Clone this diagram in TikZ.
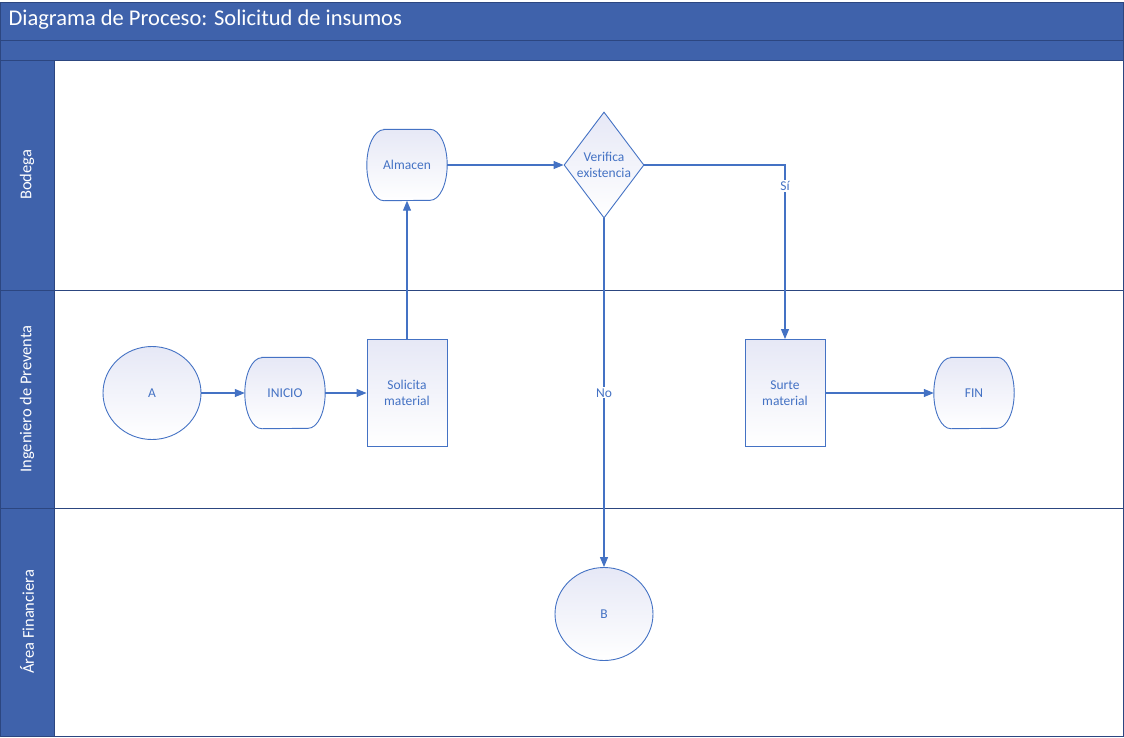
\documentclass[tikz,border=0pt]{standalone}
\usepackage{fontspec}
\setmainfont{Carlito}
\usetikzlibrary{shapes.geometric,arrows.meta,backgrounds}
\definecolor{hdrblue}{RGB}{63,98,171}
\definecolor{hdrline}{RGB}{44,70,128}
\definecolor{flowblue}{RGB}{68,114,196}
\definecolor{shapefill}{RGB}{230,232,246}
\tikzset{
  shp/.style={draw=flowblue, line width=0.9pt, text=flowblue, top color=shapefill, bottom color=white,
    font=\fontsize{13.5}{16}\selectfont, align=center, inner sep=0pt},
  procbox/.style={shp, rectangle, minimum width=80pt, minimum height=107pt},
  termbox/.style={text=flowblue, font=\fontsize{13.5}{16}\selectfont, rectangle, minimum width=80pt, minimum height=71pt},
  termline/.style={draw=flowblue, line width=0.9pt, top color=shapefill, bottom color=white},
  conn/.style={shp, ellipse, minimum width=98pt, minimum height=93pt},
  decision/.style={shp, diamond, minimum width=80pt, minimum height=106pt},
  lanelabel/.style={rotate=90, text=white, font=\fontsize{16.5}{19}\selectfont},
  flow/.style={draw=flowblue, line width=1.1pt, -{Triangle[length=10pt,width=8pt]}},
  flowlabel/.style={fill=white, text=flowblue, font=\fontsize{13.5}{16}\selectfont, inner sep=1pt}
}
\begin{document}
\begin{tikzpicture}[x=1pt,y=-1pt]
\useasboundingbox (0,0) rectangle (1124,737);
\fill[hdrblue] (0,2) rectangle (1124,60);
\fill[hdrblue] (0,60) rectangle (54,737);
\draw[hdrline] (0,40) -- (1124,40);
\draw[hdrline] (0,60) -- (1124,60);
\draw[hdrline] (0,290) -- (1124,290);
\draw[hdrline] (0,508) -- (1124,508);
\draw[hdrline] (54,60) -- (54,736);
\draw[hdrline, line width=1pt] (0.5,2) rectangle (1123.5,736);
\node[anchor=west, text=white, font=\fontsize{22.5}{26}\selectfont] (title) at (5,20) {Diagrama de Proceso: Solicitud de insumos};
\node[lanelabel] (bodega) at (27,175) {Bodega};
\node[lanelabel] (ingeniero) at (27,399) {Ingeniero de Preventa};
\node[lanelabel] (financiera) at (27,622) {Área Financiera};
\node[conn] (A) at (152,393) {A};
\node[termbox] (inicio) at (285,393) {INICIO};
\node[procbox] (solicita) at (407,393) {Solicita\\material};
\node[termbox] (almacen) at (407,165) {Almacen};
\node[decision] (verifica) at (604,165) {Verifica\\existencia};
\node[procbox] (surte) at (785,393) {Surte\\material};
\node[termbox] (fin) at (974,393) {FIN};
\node[conn] (B) at (604,614) {B};
\begin{pgfonlayer}{background}
\foreach \t in {inicio,almacen,fin}
  \shade[termline] ([xshift=17pt]\t.north west) -- ([xshift=-17pt]\t.north east)
    arc[start angle=90, end angle=-90, x radius=17pt, y radius=35.5pt]
    -- ([xshift=17pt]\t.south west)
    arc[start angle=270, end angle=90, x radius=17pt, y radius=35.5pt] -- cycle;
\end{pgfonlayer}
\draw[flow] (A) -- (inicio);
\draw[flow] (inicio) -- (solicita);
\draw[flow] (solicita) -- (almacen);
\draw[flow] (almacen) -- (verifica);
\draw[flow] (verifica.east) -| (surte.north) node[pos=0.56, flowlabel]{Sí};
\draw[flow] (verifica.south) -- (B.north) node[pos=0.5, flowlabel]{No};
\draw[flow] (surte) -- (fin);
\end{tikzpicture}
\end{document}
